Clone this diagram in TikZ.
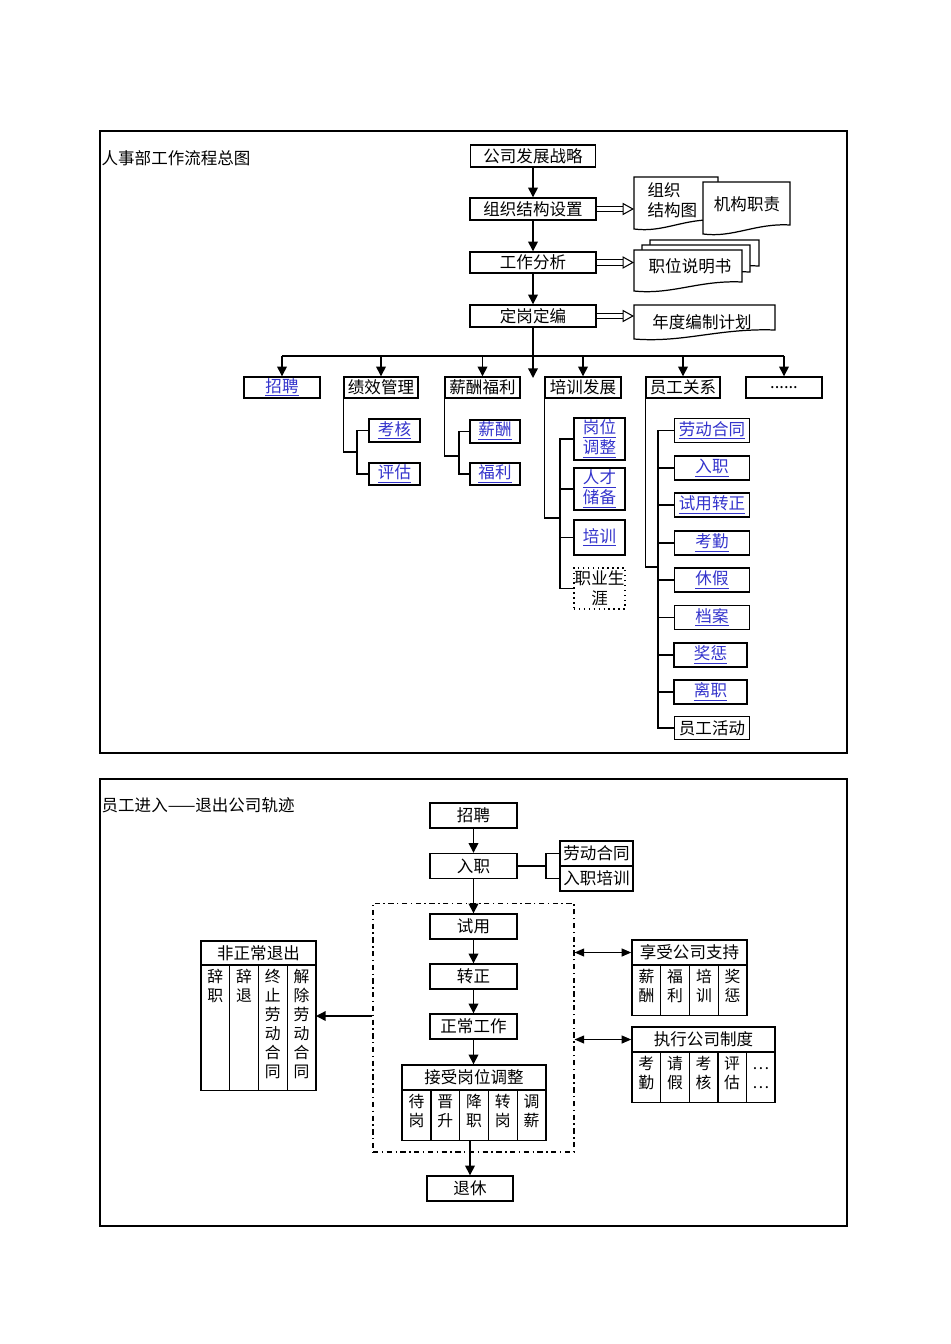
\documentclass[tikz,border=0pt]{standalone}
\usepackage{fontspec}
\setmainfont{Noto Sans CJK SC}
\usetikzlibrary{arrows.meta}
\definecolor{linkblue}{RGB}{51,51,204}
\newcommand{\lnk}[1]{\textcolor{linkblue}{\underline{#1}}}
\newcommand{\vcol}[2]{\parbox[c][#1][t]{0.55cm}{\centering\rule{0pt}{9.5pt}#2}}
\newcommand{\docshape}[4]{%
	\draw[line width=0.7pt, fill=white] (#1,#2) -- (#3,#2) -- (#3,{#4-9})
	.. controls ({#1+0.6*(#3-#1)},{#4-11}) and ({#1+0.35*(#3-#1)},{#4+4}) .. (#1,#4) -- cycle;}

\begin{document}
\begin{tikzpicture}[x=0.02cm, y=-0.02cm, line width=0.8pt,
	box/.style={draw, fill=white, inner sep=0pt, font=\fontsize{9.4}{11.3}\selectfont},
	lbox/.style={box, align=center},
	col/.style={draw, inner sep=0pt, anchor=north, font=\fontsize{9}{10.8}\selectfont},
	arr/.style={-{Triangle[length=5.5pt, width=5.5pt]}},
	darr/.style={{Triangle[length=5.5pt, width=4.5pt]}-{Triangle[length=5.5pt, width=4.5pt]}},
	hollow/.style={double, double distance=2.3pt, line width=0.6pt, -{Triangle[open, length=6.5pt, width=7pt, line width=0.6pt]}},
	title/.style={anchor=west, inner sep=0pt, font=\fontsize{9.4}{11}\selectfont}]
	\useasboundingbox (0,0) rectangle (950,1344);
	\draw[line width=0.6pt] (100,131) rectangle (847,753);
	\draw[line width=0.6pt] (100,779) rectangle (847,1226);
	
	% overall flow
	\node[title] (title1) at (101,158) {人事部工作流程总图};
	\node[box, minimum width=2.5cm, minimum height=0.44cm] (zl) at (533,156) {公司发展战略};
	\node[box, minimum width=2.52cm, minimum height=0.44cm] (zz) at (533,209) {组织结构设置};
	\node[box, minimum width=2.52cm, minimum height=0.42cm] (gz) at (533,262.5) {工作分析};
	\node[box, minimum width=2.52cm, minimum height=0.44cm] (dg) at (533,316) {定岗定编};
	\draw[arr] (zl.south) -- (zz.north);
	\draw[arr] (zz.south) -- (gz.north);
	\draw[arr] (gz.south) -- (dg.north);
	
	\docshape{634}{177}{718}{229}
	\node[box, draw=none, fill=none, align=left, anchor=west] (dzzt) at (647,200) {组织\\结构图};
	\docshape{703}{182}{790}{234}
	\node[box, draw=none, fill=none] (djg) at (747,204) {机构职责};
	\docshape{650}{240}{759}{275}
	\docshape{642}{245}{750}{281}
	\docshape{634}{250}{742}{291}
	\node[box, draw=none, fill=none] (dzw) at (690,266) {职位说明书};
	\docshape{634}{305}{775}{339}
	\node[box, draw=none, fill=none] (dnd) at (702,322) {年度编制计划};
	\coordinate (zzin) at (634,209);
	\coordinate (gzin) at (634,262.5);
	\coordinate (dgin) at (634,316);
	\draw[hollow] (zz.east) -- (zzin);
	\draw[hollow] (gz.east) -- (gzin);
	\draw[hollow] (dg.east) -- (dgin);
	
	\coordinate (dgend) at (533,378);
	\coordinate (busL) at (282,356);
	\coordinate (busR) at (784,356);
	\draw[arr] (dg.south) -- (dgend);
	\draw (busL) -- (busR);
	\node[box, minimum width=1.52cm, minimum height=0.42cm] (zp) at (282,387.5) {\lnk{招聘}};
	\node[box, minimum width=1.48cm, minimum height=0.42cm] (jx) at (381,387.5) {绩效管理};
	\node[box, minimum width=1.5cm, minimum height=0.42cm] (xf) at (482.5,387.5) {薪酬福利};
	\node[box, minimum width=1.52cm, minimum height=0.42cm] (px) at (583,387.5) {培训发展};
	\node[box, minimum width=1.48cm, minimum height=0.42cm] (yg) at (683,387.5) {员工关系};
	\node[box, minimum width=1.52cm, minimum height=0.42cm] (gd) at (784,387.5) {......};
	\draw[arr] (busL) -- (zp.north);
	\draw[arr] (jx.north |- busL) -- (jx.north);
	\draw[arr] (xf.north |- busL) -- (xf.north);
	\draw[arr] (px.north |- busL) -- (px.north);
	\draw[arr] (yg.north |- busL) -- (yg.north);
	\draw[arr] (busR) -- (gd.north);
	
	% performance and pay
	\node[box, minimum width=1.02cm, minimum height=0.46cm] (kh) at (394.5,430.5) {\lnk{考核}};
	\node[box, minimum width=1.02cm, minimum height=0.44cm] (pg) at (394.5,474) {\lnk{评估}};
	\coordinate (jxbr) at (357,452);
	\draw (jx.south west) |- (jxbr);
	\draw (kh.west) -| (jxbr) |- (pg.west);
	\node[box, minimum width=1.0cm, minimum height=0.46cm] (xc) at (495,431.5) {\lnk{薪酬}};
	\node[box, minimum width=1.0cm, minimum height=0.44cm] (fl) at (495,474) {\lnk{福利}};
	\coordinate (xfbr) at (459,456);
	\draw (xf.south west) |- (xfbr);
	\draw (xc.west) -| (xfbr) |- (fl.west);
	
	% training
	\node[lbox, minimum width=1.02cm, minimum height=0.84cm] (gw) at (599.5,439) {\lnk{岗位}\\\lnk{调整}};
	\node[lbox, minimum width=1.02cm, minimum height=0.84cm] (rc) at (599.5,489) {\lnk{人才}\\\lnk{储备}};
	\node[lbox, minimum width=1.02cm, minimum height=0.7cm] (pxx) at (599.5,537.5) {\lnk{培训}};
	\node[lbox, dotted, minimum width=1.02cm, minimum height=0.82cm] (zy) at (599.5,588.5) {职业生\\涯};
	\coordinate (pxbr) at (560,518);
	\draw (px.south west) |- (pxbr);
	\draw (gw.west) -| (pxbr) |- (zy.west);
	\draw (rc.west) -- (rc.west -| pxbr);
	\draw (pxx.west) -- (pxx.west -| pxbr);
	
	% employee relations
	\node[box, minimum width=1.5cm, minimum height=0.48cm] (r1) at (712,430.5) {\lnk{劳动合同}};
	\node[box, minimum width=1.5cm, minimum height=0.48cm] (r2) at (712,468) {\lnk{入职}};
	\node[box, minimum width=1.5cm, minimum height=0.48cm] (r3) at (712,505) {\lnk{试用转正}};
	\node[box, minimum width=1.5cm, minimum height=0.48cm] (r4) at (712,543) {\lnk{考勤}};
	\node[box, minimum width=1.5cm, minimum height=0.48cm] (r5) at (712,580) {\lnk{休假}};
	\node[box, minimum width=1.5cm, minimum height=0.48cm] (r6) at (712,617.5) {\lnk{档案}};
	\node[box, minimum width=1.46cm, minimum height=0.48cm] (r7) at (710.5,655) {\lnk{奖惩}};
	\node[box, minimum width=1.46cm, minimum height=0.48cm] (r8) at (710.5,692) {\lnk{离职}};
	\node[box, minimum width=1.5cm, minimum height=0.46cm] (r9) at (712,728) {员工活动};
	\coordinate (ygbr) at (658,567);
	\draw (yg.south west) |- (ygbr);
	\draw (r1.west) -| (ygbr) |- (r9.west);
	\draw (r2.west) -- (r2.west -| ygbr);
	\draw (r3.west) -- (r3.west -| ygbr);
	\draw (r4.west) -- (r4.west -| ygbr);
	\draw (r5.west) -- (r5.west -| ygbr);
	\draw (r6.west) -- (r6.west -| ygbr);
	\draw (r7.west) -- (r7.west -| ygbr);
	\draw (r8.west) -- (r8.west -| ygbr);
	
	% employee track
	\node[title] (title2) at (101,805) {员工进入——退出公司轨迹};
	\node[draw, dash dot, line width=0.6pt, minimum width=4.02cm, minimum height=4.98cm] (zone) at (473.5,1027.5) {};
	\node[box, minimum width=1.74cm, minimum height=0.5cm] (zp2) at (473.5,815.5) {招聘};
	\node[box, minimum width=1.74cm, minimum height=0.5cm] (rz) at (473.5,866) {入职};
	\node[box, minimum width=1.46cm, minimum height=0.5cm] (ld) at (596.5,853.5) {劳动合同};
	\node[box, minimum width=1.46cm, minimum height=0.5cm] (rp) at (596.5,878.5) {入职培训};
	\node[box, minimum width=1.74cm, minimum height=0.5cm] (sy) at (473.5,926.5) {试用};
	\node[box, minimum width=1.74cm, minimum height=0.5cm] (zzh) at (473.5,976.5) {转正};
	\node[box, minimum width=1.74cm, minimum height=0.5cm] (zc) at (473.5,1026.5) {正常工作};
	\node[box, minimum width=1.72cm, minimum height=0.5cm] (tx) at (470,1188.5) {退休};
	\coordinate (rzbr) at (546,866);
	\draw (rz.east) -- (rzbr);
	\draw (ld.west) -| (rzbr) |- (rp.west);
	\draw[arr] (zp2.south) -- (rz.north);
	\draw[arr] (rz.south) -- (sy.north);
	\draw[arr] (sy.south) -- (zzh.north);
	\draw[arr] (zzh.south) -- (zc.north);
	
	\node[box, minimum width=2.88cm, minimum height=0.5cm] (tz) at (474,1077.5) {接受岗位调整};
	\node[col, minimum width=0.576cm] (tz1) at (416.4,1090) {\vcol{1cm}{待\\岗}};
	\node[col, minimum width=0.576cm] (tz2) at (445.2,1090) {\vcol{1cm}{晋\\升}};
	\node[col, minimum width=0.576cm] (tz3) at (474,1090) {\vcol{1cm}{降\\职}};
	\node[col, minimum width=0.576cm] (tz4) at (502.8,1090) {\vcol{1cm}{转\\岗}};
	\node[col, minimum width=0.576cm] (tz5) at (531.6,1090) {\vcol{1cm}{调\\薪}};
	\draw[arr] (zc.south) -- (zc.south |- tz.north);
	\draw[arr] (tx.north |- tz3.south) -- (tx.north);
	
	\node[box, minimum width=2.3cm, minimum height=0.48cm] (fz) at (258.5,953) {非正常退出};
	\node[col, minimum width=0.575cm] (fz1) at (215.4,965) {\vcol{2.5cm}{辞\\职}};
	\node[col, minimum width=0.575cm] (fz2) at (244.1,965) {\vcol{2.5cm}{辞\\退}};
	\node[col, minimum width=0.575cm] (fz3) at (272.9,965) {\vcol{2.5cm}{终\\止\\劳\\动\\合\\同}};
	\node[col, minimum width=0.575cm] (fz4) at (301.6,965) {\vcol{2.5cm}{解\\除\\劳\\动\\合\\同}};
	\coordinate (fzin) at (316,1016);
	\draw[arr] (zone.west |- fzin) -- (fzin);
	
	\node[box, minimum width=2.3cm, minimum height=0.5cm] (xs) at (689.5,952.5) {享受公司支持};
	\node[col, minimum width=0.575cm] (xs1) at (646.4,965) {\vcol{1cm}{薪\\酬}};
	\node[col, minimum width=0.575cm] (xs2) at (675.1,965) {\vcol{1cm}{福\\利}};
	\node[col, minimum width=0.575cm] (xs3) at (703.9,965) {\vcol{1cm}{培\\训}};
	\node[col, minimum width=0.575cm] (xs4) at (732.6,965) {\vcol{1cm}{奖\\惩}};
	\draw[darr] (zone.east |- xs.west) -- (xs.west);
	
	\node[box, minimum width=2.86cm, minimum height=0.5cm] (zx) at (703.5,1039.5) {执行公司制度};
	\node[col, minimum width=0.572cm] (zx1) at (646.3,1052) {\vcol{1cm}{考\\勤}};
	\node[col, minimum width=0.572cm] (zx2) at (674.9,1052) {\vcol{1cm}{请\\假}};
	\node[col, minimum width=0.572cm] (zx3) at (703.5,1052) {\vcol{1cm}{考\\核}};
	\node[col, minimum width=0.572cm] (zx4) at (732.1,1052) {\vcol{1cm}{评\\估}};
	\node[col, minimum width=0.572cm] (zx5) at (760.7,1052) {\vcol{1cm}{…\\…}};
	\draw[darr] (zone.east |- zx.west) -- (zx.west);
\end{tikzpicture}
\end{document}
